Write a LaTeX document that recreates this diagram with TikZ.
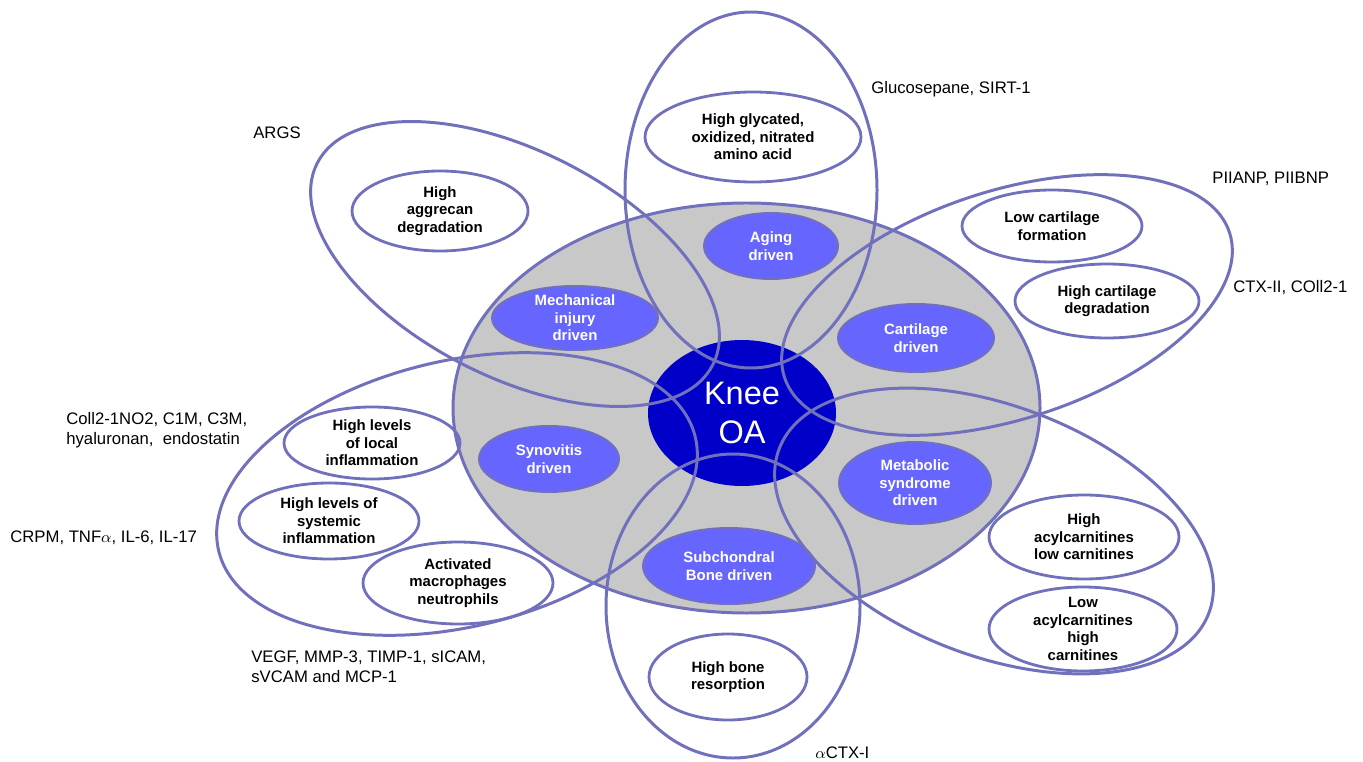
\documentclass[tikz,border=0pt]{standalone}
\usepackage{fontspec}
\setmainfont{Liberation Sans}
\usepackage{tikz}
\usetikzlibrary{shapes}
\definecolor{petalblue}{RGB}{112,112,188}
\definecolor{drivenblue}{RGB}{102,102,255}
\definecolor{kneeblue}{RGB}{0,0,200}
\definecolor{discgray}{RGB}{200,200,200}
\tikzset{petal/.style={draw=petalblue,line width=1.7pt}}
\tikzset{whiteell/.style={ellipse,draw=petalblue,line width=1.6pt,align=center,inner xsep=0pt,inner ysep=-1mm,font=\fontsize{8.5}{10}\selectfont\bfseries}}
\tikzset{drivenell/.style={ellipse,draw=petalblue,line width=1.1pt,fill=drivenblue,text=white,align=center,inner xsep=0pt,inner ysep=-1mm,font=\fontsize{8.5}{10}\selectfont\bfseries}}
\tikzset{marker/.style={anchor=west,align=left,inner sep=0pt,font=\fontsize{9.5}{11.5}\selectfont}}

\begin{document}
\begin{tikzpicture}[x=0.2mm,y=-0.2mm]
        \useasboundingbox (0,0) rectangle (1363,762);

        \node[ellipse,petal,fill=discgray,minimum width=117.4mm,minimum height=82mm] (disc)at (746.5,408) {};

        \node[drivenell,minimum width=26.8mm,minimum height=13.2mm] (aging)at (771,246) {Aging\\driven};
        \node[drivenell,minimum width=33.2mm,minimum height=12.8mm] (mech)at (575,318) {Mechanical\\injury\\driven};
        \node[drivenell,minimum width=31.2mm,minimum height=13.6mm] (cart)at (916,338) {Cartilage\\driven};
        \node[drivenell,minimum width=28mm,minimum height=13.2mm] (syno)at (549,459) {Synovitis\\driven};
        \node[drivenell,minimum width=30.4mm,minimum height=16.4mm] (metab)at (915,483) {Metabolic\\syndrome\\driven};
        \node[drivenell,minimum width=34.4mm,minimum height=15.2mm] (subch)at (729,566) {Subchondral\\Bone driven};

        \node[ellipse,fill=kneeblue,text=white,align=center,inner sep=0pt,minimum width=37.6mm,minimum height=29.2mm,font=\fontsize{18.5}{22.5}\selectfont] (knee)at (742,413) {Knee\\OA};

        \draw[petal] (751,190) ellipse [x radius=126,y radius=178];
        \draw[petal] (733,606) ellipse [x radius=127,y radius=152];
        \draw[petal,rotate around={-27:(515,264)}] (515,264) ellipse [x radius=222,y radius=113];
        \draw[petal,rotate around={18:(1007,305)}] (1007,305) ellipse [x radius=234,y radius=114];
        \draw[petal,rotate around={-21:(994,531)}] (994,531) ellipse [x radius=230,y radius=125];
        \draw[petal,rotate around={13.4:(457,494)}] (457,494) ellipse [x radius=245,y radius=133];

        \node[whiteell,minimum width=43.2mm,minimum height=18mm] (glyc)at (753,137) {High glycated,\\oxidized, nitrated\\amino acid};
        \node[whiteell,minimum width=35.2mm,minimum height=16mm] (aggr)at (440,211) {High\\aggrecan\\degradation};
        \node[whiteell,minimum width=36mm,minimum height=14.4mm] (lowcart)at (1052,226) {Low cartilage\\formation};
        \node[whiteell,minimum width=36.8mm,minimum height=14.8mm] (highcart)at (1107,301) {High cartilage\\degradation};
        \node[whiteell,minimum width=35.2mm,minimum height=14.4mm] (local)at (372,443) {High levels\\of local\\inflammation};
        \node[whiteell,minimum width=36mm,minimum height=15.2mm] (systemic)at (329,521) {High levels of\\systemic\\inflammation};
        \node[whiteell,minimum width=38mm,minimum height=16.4mm] (macro)at (458,583) {Activated\\macrophages\\neutrophils};
        \node[whiteell,minimum width=38mm,minimum height=16.8mm] (highacyl)at (1084,537) {High\\acylcarnitines\\low carnitines};
        \node[whiteell,minimum width=37.6mm,minimum height=16.8mm] (lowacyl)at (1083,629) {Low\\acylcarnitines\\high\\carnitines};
        \node[whiteell,minimum width=31.6mm,minimum height=17.2mm] (bone)at (728,677) {High bone\\resorption};

        \node[marker] (glucos)at (871,89) {Glucosepane, SIRT-1};
        \node[marker] (args)at (253,133) {ARGS};
        \node[marker] (piianp)at (1212,179) {PIIANP, PIIBNP};
        \node[marker] (ctxii)at (1233,288) {CTX-II, COll2-1};
        \node[marker] (coll)at (66,430) {Coll2-1NO2, C1M, C3M,\\hyaluronan,\ \ endostatin};
        \node[marker] (crpm)at (10,538) {CRPM, TNF$\alpha$, IL-6, IL-17};
        \node[marker] (vegf)at (251,667) {VEGF, MMP-3,\ TIMP-1, sICAM,\\sVCAM and MCP-1};
        \node[marker] (actx)at (815,753) {$\alpha$CTX-I};
    \end{tikzpicture}
\end{document}
